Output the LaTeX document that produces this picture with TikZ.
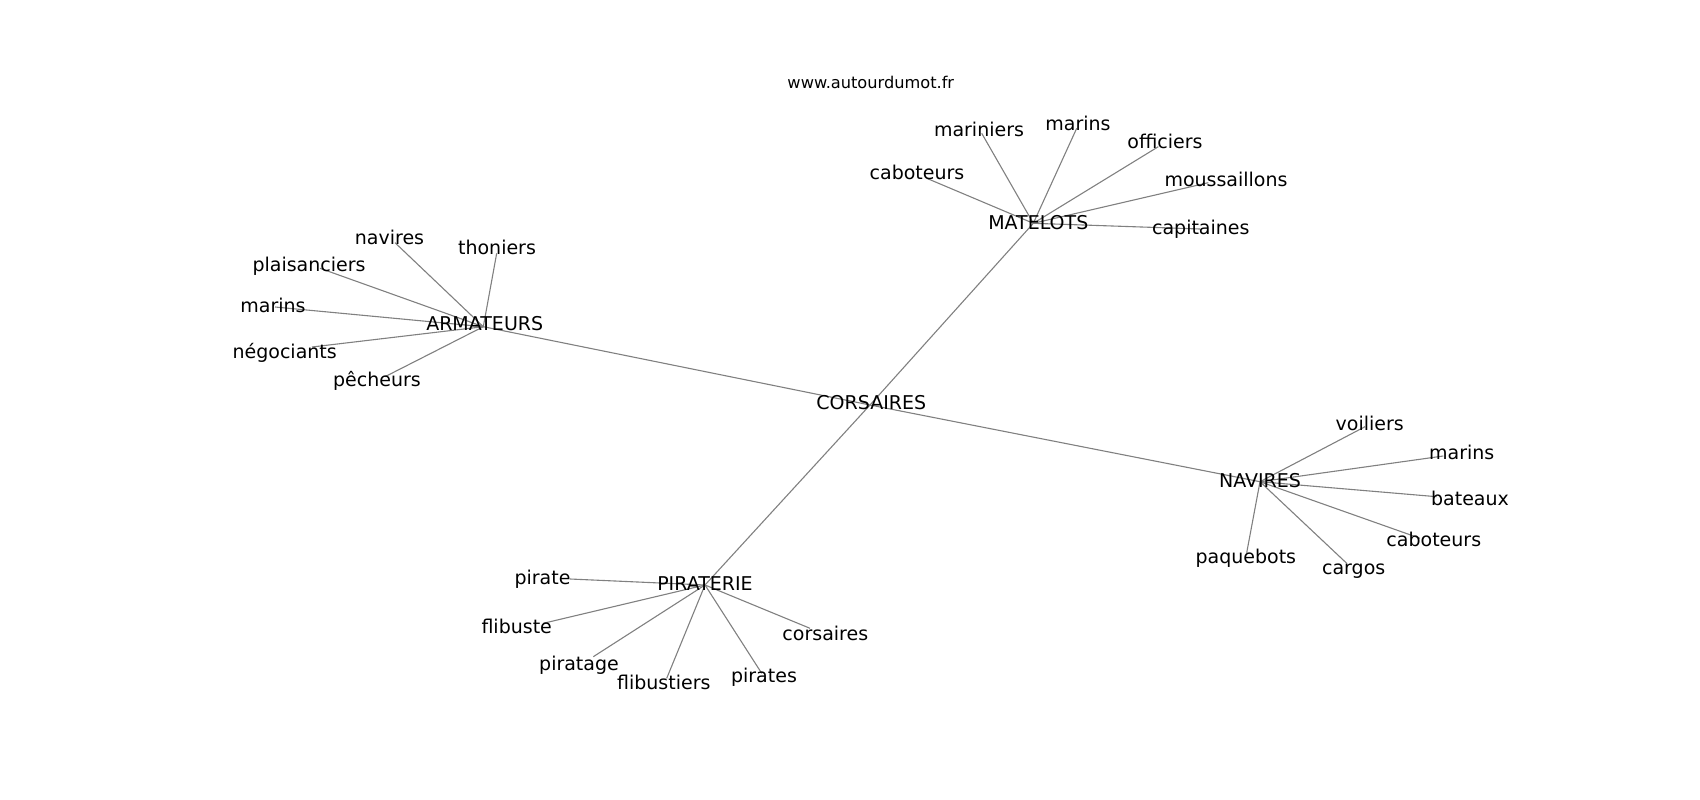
\documentclass[tikz,border=0pt]{standalone}
\usepackage{fontspec}
\setmainfont{DejaVu Sans}
\usepackage{tikz}

\begin{document}
\begin{tikzpicture}[x=1pt,y=-1pt,
  word/.style={anchor=base,inner sep=0pt,font=\fontsize{19}{19}\selectfont},
  link/.style={draw=gray,line width=1.1pt}]
\useasboundingbox (0,0) rectangle (1700,800);
\node[anchor=base,inner sep=0pt,font=\fontsize{16.2}{16.2}\selectfont] (site) at (870.8,88.3) {www.autourdumot.fr};
% points
\coordinate (pCor) at (870,405);
\coordinate (pArm) at (483.3,326.7);
\coordinate (pMat) at (1033.3,223.3);
\coordinate (pNav) at (1260,481.7);
\coordinate (pPir) at (705,585);
\coordinate (pArmNavires) at (395,242.7);
\coordinate (pArmThoniers) at (496.7,253.3);
\coordinate (pArmPlais) at (320,268.3);
\coordinate (pArmMarins) at (275,307);
\coordinate (pArmNego) at (312,347);
\coordinate (pArmPech) at (385,376.7);
\coordinate (pMatMarin) at (981.7,133.3);
\coordinate (pMatMarins) at (1076.7,128.3);
\coordinate (pMatOffi) at (1158.3,146.7);
\coordinate (pMatCabo) at (926.7,178.3);
\coordinate (pMatMous) at (1208.3,182.7);
\coordinate (pMatCapi) at (1200,229);
\coordinate (pNavVoil) at (1365,426.7);
\coordinate (pNavMarins) at (1443.3,456);
\coordinate (pNavBat) at (1436.7,496.7);
\coordinate (pNavCabo) at (1420,538.3);
\coordinate (pNavPaq) at (1246.7,552.7);
\coordinate (pNavCarg) at (1346.7,563.3);
\coordinate (pPirPirate) at (570,579);
\coordinate (pPirFlib) at (543.3,623.3);
\coordinate (pPirPiratage) at (593.3,656.7);
\coordinate (pPirFlibs) at (666.7,678.3);
\coordinate (pPirPirates) at (761.7,673.3);
\coordinate (pPirCors) at (810,628.3);
% links
\draw[link] (pCor) -- (pArm);
\draw[link] (pCor) -- (pMat);
\draw[link] (pCor) -- (pNav);
\draw[link] (pCor) -- (pPir);
\draw[link] (pArm) -- (pArmNavires);
\draw[link] (pArm) -- (pArmThoniers);
\draw[link] (pArm) -- (pArmPlais);
\draw[link] (pArm) -- (pArmMarins);
\draw[link] (pArm) -- (pArmNego);
\draw[link] (pArm) -- (pArmPech);
\draw[link] (pMat) -- (pMatMarin);
\draw[link] (pMat) -- (pMatMarins);
\draw[link] (pMat) -- (pMatOffi);
\draw[link] (pMat) -- (pMatCabo);
\draw[link] (pMat) -- (pMatMous);
\draw[link] (pMat) -- (pMatCapi);
\draw[link] (pNav) -- (pNavVoil);
\draw[link] (pNav) -- (pNavMarins);
\draw[link] (pNav) -- (pNavBat);
\draw[link] (pNav) -- (pNavCabo);
\draw[link] (pNav) -- (pNavPaq);
\draw[link] (pNav) -- (pNavCarg);
\draw[link] (pPir) -- (pPirPirate);
\draw[link] (pPir) -- (pPirFlib);
\draw[link] (pPir) -- (pPirPiratage);
\draw[link] (pPir) -- (pPirFlibs);
\draw[link] (pPir) -- (pPirPirates);
\draw[link] (pPir) -- (pPirCors);
% words
\node[word] (cor) at (871.3,409.3) {CORSAIRES};
\node[word] (arm) at (484.7,330.7) {ARMATEURS};
\node[word] (mat) at (1038.3,229.3) {MATELOTS};
\node[word] (nav) at (1260,487.3) {NAVIRES};
\node[word] (pir) at (705,590.7) {PIRATERIE};
\node[word] (armNavires) at (389.5,244) {navires};
\node[word] (armThoniers) at (497,254.3) {thoniers};
\node[word] (armPlais) at (309,271.7) {plaisanciers};
\node[word] (armMarins) at (273,312.7) {marins};
\node[word] (armNego) at (284.7,358.3) {négociants};
\node[word] (armPech) at (377,386.7) {pêcheurs};
\node[word] (matMarin) at (979,136) {mariniers};
\node[word] (matMarins) at (1078,130) {marins};
\node[word] (matOffi) at (1165,148.3) {officiers};
\node[word] (matCabo) at (917,179.3) {caboteurs};
\node[word] (matMous) at (1226,186) {moussaillons};
\node[word] (matCapi) at (1200.8,234.3) {capitaines};
\node[word] (navVoil) at (1369.7,430) {voiliers};
\node[word] (navMarins) at (1461.7,459.3) {marins};
\node[word] (navBat) at (1470,505) {bateaux};
\node[word] (navCabo) at (1433.8,546.7) {caboteurs};
\node[word] (navPaq) at (1245.8,563.3) {paquebots};
\node[word] (navCarg) at (1353.7,574) {cargos};
\node[word] (pirPirate) at (542.5,584) {pirate};
\node[word] (pirFlib) at (516.7,633.3) {flibuste};
\node[word] (pirPiratage) at (579,670) {piratage};
\node[word] (pirFlibs) at (663.8,689.3) {flibustiers};
\node[word] (pirPirates) at (764,682.7) {pirates};
\node[word] (pirCors) at (825.3,640) {corsaires};
\end{tikzpicture}
\end{document}
